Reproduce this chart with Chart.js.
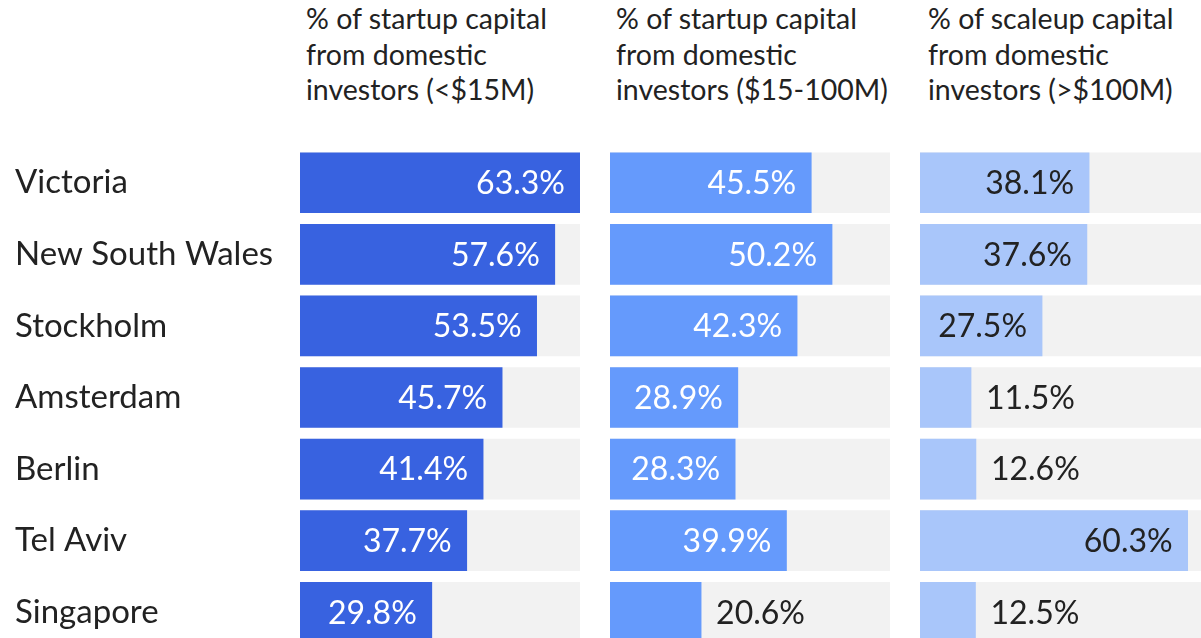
<!DOCTYPE html>
<html>
<head>
<meta charset="utf-8">
<script src="https://cdn.jsdelivr.net/npm/chart.js@4/dist/chart.umd.min.js"></script>
<style>
    html, body { margin: 0; padding: 0; background: #fff; overflow: hidden; }
    #wrap { position: relative; width: 1201px; height: 638px; overflow: hidden; font-family: Lato, sans-serif; color: #222; }
    .head { position: absolute; top: 1px; font-size: 28.5px; line-height: 35.5px; color: #222; }
    .box { position: absolute; top: 147px; height: 501px; }
</style>
</head>
<body>
<div id="wrap">
    <div class="head" style="left:306px">% of startup capital<br>from domestic<br>investors (&lt;$15M)</div>
    <div class="head" style="left:616px">% of startup capital<br>from domestic<br>investors ($15-100M)</div>
    <div class="head" style="left:928px">% of scaleup capital<br>from domestic<br>investors (&gt;$100M)</div>
    <div class="box" style="left:0; width:580px"><canvas id="c1"></canvas></div>
    <div class="box" style="left:610px; width:280px"><canvas id="c2"></canvas></div>
    <div class="box" style="left:920px; width:281px"><canvas id="c3"></canvas></div>
</div>
<script>
const cities = ['Victoria', 'New South Wales', 'Stockholm', 'Amsterdam', 'Berlin', 'Tel Aviv', 'Singapore'];
const startupSmall = [63.3, 57.6, 53.5, 45.7, 41.4, 37.7, 29.8];
const startupMid = [45.5, 50.2, 42.3, 28.9, 28.3, 39.9, 20.6];
const scaleupLarge = [38.1, 37.6, 27.5, 11.5, 12.6, 60.3, 12.5];
const scaleMax = 63.3;

// value labels: inside the bar when it fits, else just right of it
const valueLabels = {
    id: 'valueLabels',
    afterDatasetsDraw(chart, args, opts) {
        const ctx = chart.ctx;
        const meta = chart.getDatasetMeta(0);
        const values = chart.data.datasets[0].data;
        ctx.save();
        ctx.font = '32px Lato, sans-serif';
        ctx.textBaseline = 'middle';
        meta.data.forEach((bar, i) => {
            const text = values[i].toFixed(1) + '%';
            const w = ctx.measureText(text).width;
            const barW = bar.x - bar.base;
            if (barW >= w + 28) {
                ctx.textAlign = 'right';
                ctx.fillStyle = opts.inside;
                ctx.fillText(text, bar.x - 15, bar.y + 1);
            } else {
                ctx.textAlign = 'left';
                ctx.fillStyle = '#222';
                ctx.fillText(text, bar.x + 15, bar.y + 1);
            }
        });
        ctx.restore();
    }
};

function makeChart(id, values, color, textColor, showLabels) {
    new Chart(document.getElementById(id), {
        type: 'bar',
        data: {
            labels: cities,
            datasets: [
                { data: values, backgroundColor: color, grouped: false, barThickness: 60 },
                { data: cities.map(() => scaleMax), backgroundColor: '#f2f2f2', grouped: false, barThickness: 60 }
            ]
        },
        options: {
            indexAxis: 'y',
            responsive: true,
            maintainAspectRatio: false,
            animation: false,
            layout: { padding: { left: showLabels ? 15 : 0, right: 0, top: 0, bottom: 0 } },
            scales: {
                x: { display: false, min: 0, max: scaleMax },
                y: {
                    display: showLabels,
                    grid: { display: false },
                    border: { display: false },
                    ticks: {
                        crossAlign: 'far',
                        color: '#222',
                        font: { family: 'Lato, sans-serif', size: 33 }
                    },
                    afterFit(scale) {
                        if (showLabels) {
                            scale.width = 285;
                            scale.paddingTop = 0;
                            scale.paddingBottom = 0;
                        }
                    }
                }
            },
            plugins: {
                legend: { display: false },
                tooltip: { enabled: false },
                valueLabels: { inside: textColor }
            }
        },
        plugins: [valueLabels]
    });
}

makeChart('c1', startupSmall, '#3862e0', '#fff', true);
makeChart('c2', startupMid, '#659afc', '#fff', false);
makeChart('c3', scaleupLarge, '#a9c6fa', '#222', false);
</script>
</body>
</html>
